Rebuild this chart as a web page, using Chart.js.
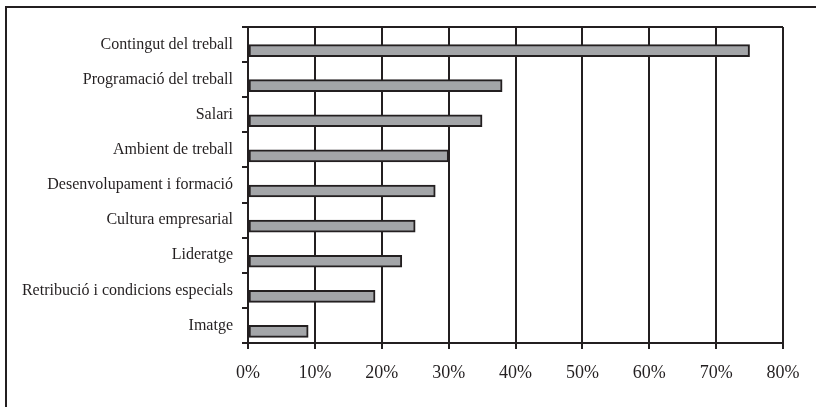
<!DOCTYPE html>
<html>
<head>
<meta charset="utf-8">
<script src="https://cdn.jsdelivr.net/npm/chart.js@4"></script>
<style>
  body { margin: 0; background: #fff; }
  #wrap { width: 816px; height: 407px; }
</style>
</head>
<body>
<div id="wrap"><canvas id="factorsChart" width="816" height="407"></canvas></div>
<script>
const factors = [
    "Contingut del treball",
    "Programació del treball",
    "Salari",
    "Ambient de treball",
    "Desenvolupament i formació",
    "Cultura empresarial",
    "Lideratge",
    "Retribució i condicions especials",
    "Imatge"
];
const percentages = [75, 38, 35, 30, 28, 25, 23, 19, 9];
// the original chart has an empty first series, which pushes bars to the lower half of each band
const emptySeries = factors.map(() => null);
const xTicks = [0, 10, 20, 30, 40, 50, 60, 70, 80];

const ink = "#231f20";
const serif = "'Liberation Serif', 'Times New Roman', serif";

const framePlugin = {
    id: "frame",
    beforeDraw(chart) {
        const ctx = chart.ctx;
        ctx.save();
        ctx.strokeStyle = ink;
        ctx.lineWidth = 2;
        ctx.beginPath();
        ctx.moveTo(6, 407);
        ctx.lineTo(6, 7);
        ctx.lineTo(816, 7);
        ctx.stroke();
        ctx.restore();
    },
    afterDraw(chart) {
        const a = chart.chartArea;
        const ctx = chart.ctx;
        ctx.save();
        ctx.strokeStyle = ink;
        ctx.lineWidth = 2;
        ctx.beginPath();
        ctx.moveTo(a.left, a.top);
        ctx.lineTo(a.right, a.top);
        ctx.stroke();
        ctx.restore();
    }
};

new Chart(document.getElementById("factorsChart"), {
    type: "bar",
    data: {
        labels: factors,
        datasets: [
            { label: "", data: emptySeries },
            {
                label: "Factors",
                data: percentages,
                backgroundColor: "#a3a5a8",
                borderColor: ink,
                borderWidth: 2,
                borderSkipped: false
            }
        ]
    },
    options: {
        indexAxis: "y",
        responsive: false,
        animation: false,
        datasets: { bar: { barThickness: 12 } },
        layout: { padding: { top: 27, right: 33, left: 0, bottom: 0 } },
        plugins: {
            legend: { display: false },
            tooltip: { enabled: false }
        },
        scales: {
            x: {
                min: 0,
                max: 80,
                afterFit: s => { s.height = 64; },
                afterBuildTicks: s => { s.ticks = xTicks.map(v => ({ value: v })); },
                grid: { color: ink, lineWidth: 2, tickLength: 6 },
                border: { color: ink, width: 2 },
                ticks: {
                    color: "#231f20",
                    padding: 13,
                    font: { family: serif, size: 18 },
                    callback: v => v + "%"
                }
            },
            y: {
                afterFit: s => { s.width = 248; },
                grid: { offset: true, drawOnChartArea: false, color: ink, lineWidth: 2, tickLength: 6 },
                border: { color: ink, width: 2 },
                ticks: {
                    color: "#231f20",
                    padding: 9,
                    font: { family: serif, size: 16 }
                }
            }
        }
    },
    plugins: [framePlugin]
});
</script>
</body>
</html>
